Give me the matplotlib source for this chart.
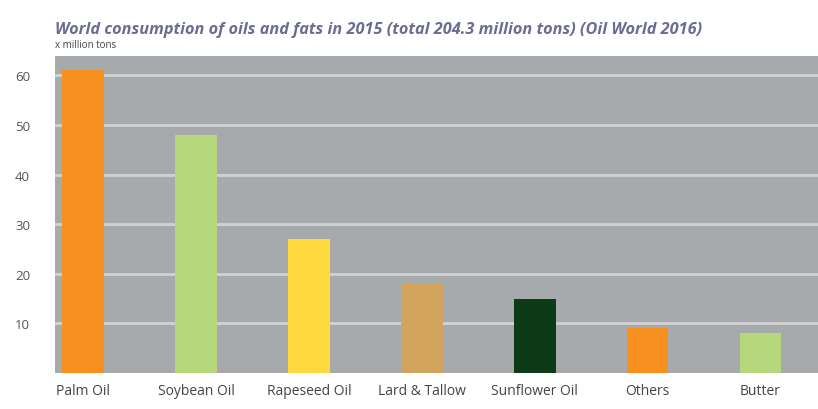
import matplotlib.pyplot as plt

categories = ["Palm Oil", "Soybean Oil", "Rapeseed Oil", "Lard & Tallow", "Sunflower Oil", "Others", "Butter"]
values = [61, 48, 27, 18, 15, 9, 8]
colors = ["#F7901E", "#B6D77C", "#FFDA3F", "#D2A45E", "#0E3B17", "#F7901E", "#B6D77C"]
yticks = [10, 20, 30, 40, 50, 60]

plt.rcParams['font.family'] = ['Open Sans', 'DejaVu Sans']

fig = plt.figure(figsize=(8.18, 4.10), dpi=100)
ax = fig.add_axes([55/818, 1 - 374/410, (818 - 55)/818, (374 - 57)/410])
ax.set_facecolor("#A7AAAD")

x = list(range(len(categories)))
ax.bar(x, values, width=0.37, color=colors, zorder=3)
ax.set_xlim(-0.25, 6.51)
ax.set_ylim(0, 63.9)
ax.set_yticks(yticks)
ax.set_yticklabels([str(t) for t in yticks], fontsize=9.5, color="#555555")
ax.set_xticks(x)
ax.set_xticklabels(categories, fontsize=10, color="#444444")
ax.yaxis.grid(True, color="#D0D2D4", linewidth=2, zorder=1)
ax.set_axisbelow(True)
ax.tick_params(axis='y', length=0, pad=18)
ax.tick_params(axis='x', length=0, pad=7)
for s in ax.spines.values():
    s.set_visible(False)

fig.text(55/818, 1 - 30/410, "World consumption of oils and fats in 2015 (total 204.3 million tons) (Oil World 2016)",
         fontsize=11.7, fontstyle='italic', fontweight='bold', color="#6A6C92", va='center', ha='left')
fig.text(55/818, 1 - 45/410, "x million tons", fontsize=7, color="#444444", va='center', ha='left')

fig.savefig("out.png", dpi=100)
